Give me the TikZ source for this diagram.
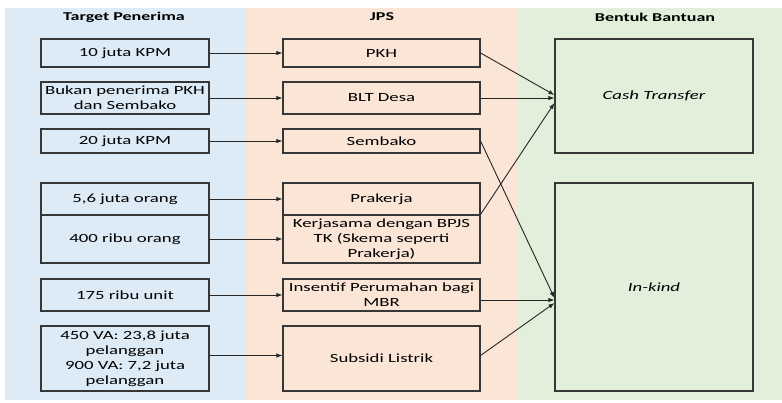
\documentclass[tikz,border=0pt]{standalone}
\usepackage{fontspec}
\setmainfont{Carlito}[FakeStretch=1.5]
\usetikzlibrary{arrows.meta}
\definecolor{colblue}{RGB}{221,235,247}
\definecolor{colpeach}{RGB}{251,229,214}
\definecolor{colgreen}{RGB}{226,239,218}
\definecolor{edgegray}{RGB}{55,55,55}
\begin{document}
\begin{tikzpicture}[x=1pt, y=-1pt,
  box/.style={draw=edgegray, line width=1.1pt, inner sep=0pt, align=center, font=\fontsize{12.5}{15}\selectfont},
  tgt/.style={box, minimum width=168pt},
  jps/.style={box, minimum width=197pt},
  bnt/.style={box, minimum width=198pt, font=\fontsize{12.5}{15}\selectfont\itshape},
  head/.style={font=\fontsize{12}{14}\selectfont\bfseries},
  arr/.style={draw=black!85, line width=0.9pt, -{Latex[length=6pt,width=4.5pt]}}]
\useasboundingbox (0,0) rectangle (782,402);
% column backgrounds
\fill[colblue] (5,8) rectangle (246,400);
\fill[colpeach] (246,8) rectangle (517,400);
\fill[colgreen] (517,8) rectangle (782,400);
\node[head] (hTgt) at (124,17){Target Penerima};
\node[head] (hJps) at (382,17){JPS};
\node[head] (hBnt) at (655,17){Bentuk Bantuan};
% target penerima
\node[tgt, minimum height=28pt] (tgt1) at (125,53){10 juta KPM};
\node[tgt, minimum height=32pt] (tgt2) at (125,98){Bukan penerima PKH\\dan Sembako};
\node[tgt, minimum height=24pt] (tgt3) at (125,141){20 juta KPM};
\node[tgt, minimum height=32pt] (tgt4) at (125,199){5,6 juta orang};
\node[tgt, minimum height=48pt] (tgt5) at (125,239){400 ribu orang};
\node[tgt, minimum height=32pt] (tgt6) at (125,295){175 ribu unit};
\node[tgt, minimum height=65pt] (tgt7) at (125,358.5){450 VA: 23,8 juta\\pelanggan\\900 VA: 7,2 juta\\pelanggan};
% jps
\node[jps, minimum height=28pt] (jps1) at (381.5,53){PKH};
\node[jps, minimum height=32pt] (jps2) at (381.5,98){BLT Desa};
\node[jps, minimum height=24pt] (jps3) at (381.5,141){Sembako};
\node[jps, minimum height=32pt] (jps4) at (381.5,199){Prakerja};
\node[jps, minimum height=48pt] (jps5) at (381.5,239){Kerjasama dengan BPJS\\TK (Skema seperti\\Prakerja)};
\node[jps, minimum height=32pt] (jps6) at (381.5,295){Insentif Perumahan bagi\\MBR};
\node[jps, minimum height=65pt] (jps7) at (381.5,358.5){Subsidi Listrik};
% bentuk bantuan
\node[bnt, minimum height=114pt] (bnt1) at (654,96){Cash Transfer};
\node[bnt, minimum height=208pt] (bnt2) at (654,287){In-kind};
\coordinate (ct1) at ([yshift=1pt]bnt1.west);
\coordinate (ct2) at ([yshift=-2pt]bnt1.west);
\coordinate (ct3) at ([yshift=-7pt]bnt1.west);
\coordinate (ik1) at ([yshift=-11pt]bnt2.west);
\coordinate (ik2) at ([yshift=-13pt]bnt2.west);
\coordinate (ik3) at ([yshift=-16pt]bnt2.west);
\foreach \i in {1,...,6}
  \draw[arr] (tgt\i.east) -- (jps\i.west);
\draw[arr] ([yshift=3pt]tgt7.east) -- ([yshift=3pt]jps7.west);
\draw[arr] (jps1.east) -- (ct1);
\draw[arr] (jps2.east |- ct2) -- (ct2);
\draw[arr] (jps5.north east) -- (ct3);
\draw[arr] (jps3.east) -- (ik1);
\draw[arr] (jps6.east |- ik2) -- (ik2);
\draw[arr] ([yshift=3pt]jps7.east) -- (ik3);
\end{tikzpicture}
\end{document}
